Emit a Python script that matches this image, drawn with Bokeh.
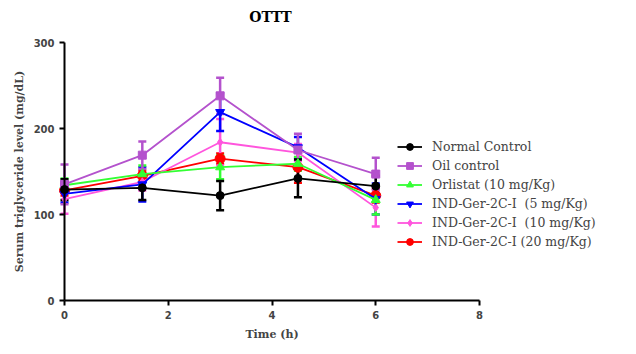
from bokeh.plotting import figure
from bokeh.models import (ColumnDataSource, Whisker, TeeHead, Legend, LegendItem,
                          Range1d, FixedTicker, Label)
from bokeh.embed import file_html
from bokeh.resources import INLINE

times = [0, 1.5, 3, 4.5, 6]
series_names = ["Normal Control", "Oil control", "Orlistat (10 mg/Kg)",
                "IND-Ger-2C-I  (5 mg/Kg)", "IND-Ger-2C-I  (10 mg/Kg)", "IND-Ger-2C-I (20 mg/Kg)"]
normal = [129, 131, 122, 142, 133]
normal_err = [12, 14, 17, 22, 12]
oil = [135, 169, 238, 175, 147]
oil_err = [23, 16, 21, 19, 19]
orlistat = [134, 147, 155, 159, 117]
orlistat_err = [8, 10, 14, 8, 17]
ind5 = [124, 135, 219, 178, 118]
ind5_err = [10, 20, 22, 12, 18]
ind10 = [118, 138, 184, 172, 108]
ind10_err = [17, 10, 27, 10, 22]
ind20 = [128, 145, 165, 155, 122]
ind20_err = [6, 6, 6, 18, 8]
x_ticks = [0, 2, 4, 6, 8]
y_ticks = [0, 100, 200, 300]

values = [normal, oil, orlistat, ind5, ind10, ind20]
errors = [normal_err, oil_err, orlistat_err, ind5_err, ind10_err, ind20_err]
colors = ["#000000", "#B452CD", "#33FF33", "#0000FF", "#FF55DD", "#FF0000"]
markers = ["circle", "square", "triangle", "inverted_triangle", "diamond", "circle"]
sizes = [8, 8, 9, 9, 8, 10]

# frame covers the whole canvas; data 0..8 -> px 64..479, 0..300 -> px 300..42
sx = (479 - 64) / 8.0
sy = (300 - 42) / 300.0
p = figure(width=636, height=354, output_backend="svg", toolbar_location=None,
           x_range=Range1d(-64 / sx, 8 + (636 - 479) / sx),
           y_range=Range1d(-(354 - 300) / sy, 300 + 42 / sy),
           min_border=0, min_border_left=0, min_border_right=0,
           min_border_top=0, min_border_bottom=0)
p.outline_line_color = None
p.xgrid.visible = False
p.ygrid.visible = False

for ax in (p.xaxis[0], p.yaxis[0]):
    ax.fixed_location = 0
    ax.axis_line_width = 2
    ax.major_tick_line_width = 2
    ax.major_tick_out = 5
    ax.major_tick_in = 0
    ax.minor_tick_line_color = None
    ax.major_label_text_font = "DejaVu Sans"
    ax.major_label_text_font_style = "bold"
    ax.major_label_text_font_size = "10px"
    ax.axis_label_text_font = "DejaVu Serif"
    ax.axis_label_text_font_style = "bold"
p.xaxis.bounds = (0, 8)
p.yaxis.bounds = (0, 300)
p.xaxis.ticker = FixedTicker(ticks=x_ticks)
p.yaxis.ticker = FixedTicker(ticks=y_ticks)
p.xaxis.axis_label = "Time (h)"
p.yaxis.axis_label = "Serum triglyceride level (mg/dL)"
p.xaxis.axis_label_text_font_size = "11px"
p.yaxis.axis_label_text_font_size = "11px"
p.xaxis.axis_label_standoff = 6
p.yaxis.axis_label_standoff = 5

p.add_layout(Label(x=270, y=338, x_units="screen", y_units="screen", text="OTTT",
                   text_font="DejaVu Serif", text_font_style="bold", text_font_size="14px",
                   text_align="center", text_baseline="middle", text_color="#000000"))

items = []
for i in reversed(range(6)):
    y = values[i]
    e = errors[i]
    src = ColumnDataSource(dict(x=times, y=y,
                                upper=[a + b for a, b in zip(y, e)],
                                lower=[a - b for a, b in zip(y, e)]))
    w = Whisker(source=src, base="x", upper="upper", lower="lower", dimension="height",
                line_color=colors[i], line_width=2.5,
                upper_head=TeeHead(size=8, line_color=colors[i], line_width=2.5),
                lower_head=TeeHead(size=8, line_color=colors[i], line_width=2.5))
    p.add_layout(w)
    ln = p.line("x", "y", source=src, line_color=colors[i], line_width=1.8)
    sc = p.scatter("x", "y", source=src, marker=markers[i], size=sizes[i],
                   fill_color=colors[i], line_color=colors[i])
    items.insert(0, LegendItem(label=series_names[i], renderers=[ln, sc]))

legend = Legend(items=items, location=(397, 104), orientation="vertical",
                border_line_color=None, background_fill_alpha=0,
                label_text_font="DejaVu Serif", label_text_font_size="12.5px",
                glyph_width=25, glyph_height=17, label_height=17, spacing=2,
                label_standoff=10, padding=0, margin=0)
p.add_layout(legend, "center")

open("out.html", "w").write(file_html(p, INLINE))
